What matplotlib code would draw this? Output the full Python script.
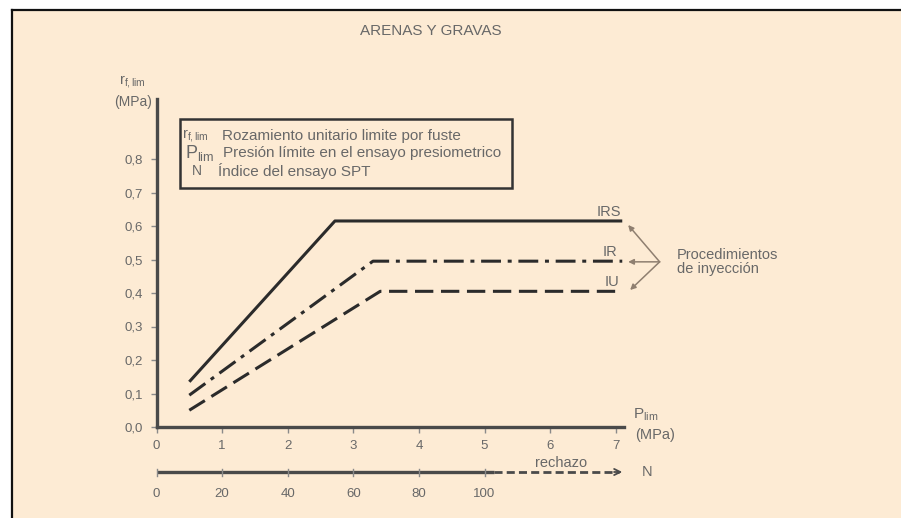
import matplotlib.pyplot as plt
from matplotlib.patches import Rectangle
from matplotlib.lines import Line2D

plt.rcParams["font.family"] = ["Liberation Sans", "DejaVu Sans"]
plt.rcParams["mathtext.fontset"] = "custom"
plt.rcParams["mathtext.rm"] = "Liberation Sans"
plt.rcParams["mathtext.it"] = "Liberation Sans"

# rozamiento limite segun procedimiento de inyeccion (x en MPa, y en MPa)
irs_x = [0.5, 2.72, 7.1]
irs_y = [0.135, 0.615, 0.615]
ir_x = [0.5, 3.30, 7.1]
ir_y = [0.095, 0.495, 0.495]
iu_x = [0.5, 3.41, 7.1]
iu_y = [0.05, 0.405, 0.405]

y_ticks = [0.0, 0.1, 0.2, 0.3, 0.4, 0.5, 0.6, 0.7, 0.8]
x_ticks = [0, 1, 2, 3, 4, 5, 6, 7]
n_ticks = [0, 20, 40, 60, 80, 100]
n_rechazo = 103   # fin del tramo continuo del eje N
n_end = 142

BG = "#fdebd4"
TXT = "#686868"
AXC = "#4a4a4a"
LINE = "#2b2b2b"
ARROW = "#8f7f70"

W, H = 901, 518
fig = plt.figure(figsize=(W / 100, H / 100), dpi=100, facecolor="white")

# fondo crema con borde negro arriba e izquierda
fig.patches.append(Rectangle((12 / W, 0), 1, 1 - 10 / H, transform=fig.transFigure,
                             facecolor=BG, edgecolor="none", zorder=-10))
fig.lines.append(Line2D([12 / W, 1], [1 - 10 / H, 1 - 10 / H], transform=fig.transFigure,
                        color="#111111", lw=1.6))
fig.lines.append(Line2D([12 / W, 12 / W], [0, 1 - 10 / H], transform=fig.transFigure,
                        color="#111111", lw=1.6))

px_per_x = 65.6
px_per_y = 335.0
x0_px, y0_px = 156.5, 427
xmax, ymax = 7.13, 0.979

ax = fig.add_axes([x0_px / W, (H - y0_px) / H, xmax * px_per_x / W, ymax * px_per_y / H])
ax.set_xlim(0, xmax)
ax.set_ylim(0, ymax)
ax.patch.set_visible(False)
for s in ["top", "right"]:
    ax.spines[s].set_visible(False)
for s in ["left", "bottom"]:
    ax.spines[s].set_color(AXC)
    ax.spines[s].set_linewidth(2.4)

ax.set_yticks(y_ticks)
ax.set_yticklabels([f"{v:.1f}".replace(".", ",") for v in y_ticks])
ax.set_xticks(x_ticks)
ax.set_xticklabels([str(v) for v in x_ticks])
ax.tick_params(colors="#8a8a8a", labelcolor=TXT, labelsize=9.5, length=4.5, width=1, pad=5)

ax.plot(irs_x, irs_y, color=LINE, lw=2.2, solid_capstyle="butt", clip_on=False)
ax.plot(ir_x, ir_y, color=LINE, lw=2.2, dashes=(6.5, 2.2, 1.3, 2.2), clip_on=False)
ax.plot(iu_x, iu_y, color=LINE, lw=2.2, dashes=(6.0, 2.5), clip_on=False)

lbl = dict(color=TXT, fontsize=10.5, ha="center", va="center")
ax.text(6.9, 0.642, "IRS", **lbl)
ax.text(6.91, 0.522, "IR", **lbl)
ax.text(6.95, 0.433, "IU", **lbl)

# flechas de "procedimientos de inyeccion"
src = (7.67, 0.493)
for tgt in [(7.19, 0.603), (7.19, 0.493), (7.22, 0.409)]:
    ax.annotate("", xy=tgt, xytext=src, annotation_clip=False,
                arrowprops=dict(arrowstyle="-|>", color=ARROW, lw=1.1,
                                mutation_scale=8, shrinkA=0, shrinkB=0))
ax.text(7.93, 0.513, "Procedimientos", color=TXT, fontsize=10.5, ha="left", va="center")
ax.text(7.93, 0.473, "de inyección", color=TXT, fontsize=10.5, ha="left", va="center")

# etiquetas de ejes
ax.text(-0.36, 1.03, r"r$_{\mathrm{f,lim}}$", color=TXT, fontsize=10.5,
        ha="center", va="center", clip_on=False)
ax.text(-0.36, 0.970, "(MPa)", color=TXT, fontsize=10,
        ha="center", va="center", clip_on=False)
ax.text(7.45, 0.036, r"P$_{\mathrm{lim}}$", color=TXT, fontsize=11,
        ha="center", va="center", clip_on=False)
ax.text(7.6, -0.024, "(MPa)", color=TXT, fontsize=10.5,
        ha="center", va="center", clip_on=False)

# recuadro de leyenda
box_l, box_r, box_t, box_b = 180, 512, 119, 188
fig.patches.append(Rectangle((box_l / W, 1 - box_b / H), (box_r - box_l) / W,
                             (box_b - box_t) / H, transform=fig.transFigure,
                             facecolor="none", edgecolor="#333333", lw=1.8))
leg_sym = [r"r$_{\mathrm{f,lim}}$", r"P$_{\mathrm{lim}}$", "N"]
leg_txt = ["Rozamiento unitario limite por fuste",
           "Presión límite en el ensayo presiometrico",
           "Índice del ensayo SPT"]
leg_sym_x = [182, 185, 192]
leg_txt_x = [222, 223, 218]
leg_y = [136, 153, 171]
leg_sym_size = [10.5, 13, 10]
for s, t, sx, tx, yy, fs in zip(leg_sym, leg_txt, leg_sym_x, leg_txt_x, leg_y, leg_sym_size):
    fig.text(sx / W, 1 - yy / H, s, color=TXT, fontsize=fs, ha="left", va="center")
    fig.text(tx / W, 1 - yy / H, t, color=TXT, fontsize=11, ha="left", va="center")

fig.text(431 / W, 1 - 31 / H, "ARENAS Y GRAVAS", color=TXT, fontsize=11,
         ha="center", va="center")

# eje secundario del ensayo SPT (N)
n_y_px = 472
axn = fig.add_axes([x0_px / W, (H - n_y_px - 10) / H, xmax * px_per_x / W, 20 / H])
axn.set_xlim(0, xmax * 20)
axn.set_ylim(-1, 1)
axn.axis("off")
axn.plot([0, n_rechazo], [0, 0], color=AXC, lw=2.4, solid_capstyle="butt", clip_on=False)
axn.plot([n_rechazo, n_end - 1], [0, 0], color=AXC, lw=2.0, dashes=(2.9, 1.5), clip_on=False)
axn.annotate("", xy=(n_end, 0), xytext=(n_end - 2.5, 0), annotation_clip=False,
             arrowprops=dict(arrowstyle="->", color=AXC, lw=1.3, mutation_scale=11,
                             shrinkA=0, shrinkB=0))
for n in n_ticks:
    axn.plot([n, n], [-0.35, 0.35], color="#8a8a8a", lw=1, clip_on=False)
    axn.text(n, -2.2, str(n), color=TXT, fontsize=9.5, ha="center", va="center")
axn.text(123.4, 0.9, "rechazo", color=TXT, fontsize=10.5, ha="center", va="center")
axn.text(149.5, 0, "N", color=TXT, fontsize=10.5, ha="center", va="center")

fig.savefig("out.png", dpi=100)
